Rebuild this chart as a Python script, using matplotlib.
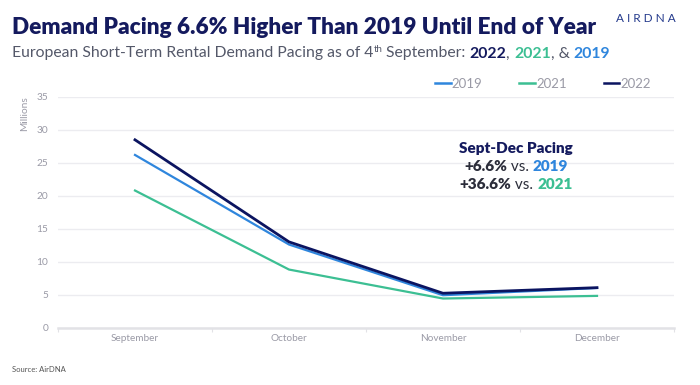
import matplotlib
matplotlib.use("Agg")
import matplotlib.pyplot as plt
from matplotlib.lines import Line2D

months = ["September", "October", "November", "December"]
series_names = ["2019", "2021", "2022"]
v2019 = [26.2, 12.6, 4.9, 6.0]
v2021 = [20.8, 8.8, 4.4, 4.8]
v2022 = [28.5, 13.0, 5.2, 6.05]
yticks = [0, 5, 10, 15, 20, 25, 30, 35]

C19 = "#2f86dd"
C21 = "#3cbf93"
C22 = "#0b1460"
NAVY = "#141a5e"
GREY = "#9a9aa6"
DARK = "#2b2d3a"

plt.rcParams["font.family"] = ["Lato", "DejaVu Sans"]

fig = plt.figure(figsize=(7, 3.85), dpi=100)
ax = fig.add_axes([58/700, 1-327.5/385, (674-58)/700, (327.5-97)/385])

x = list(range(len(months)))
ax.plot(x, v2019, color=C19, lw=1.6, zorder=3)
ax.plot(x, v2021, color=C21, lw=1.6, zorder=2)
ax.plot(x, v2022, color=C22, lw=2.0, zorder=4)

ax.set_xlim(-0.5, 3.5)
ax.set_ylim(0, 35)
ax.set_yticks(yticks)
ax.set_yticklabels([str(t) for t in yticks], color=GREY, fontsize=7.3)
ax.set_xticks(x)
ax.set_xticklabels(months, color=GREY, fontsize=7.2)
ax.set_xticks([-0.5, 0.5, 1.5, 2.5, 3.5], minor=True)
ax.tick_params(axis="x", which="major", length=0, pad=5)
ax.tick_params(axis="x", which="minor", length=3, color="#e2e2e6", width=0.8, direction="out")
ax.tick_params(axis="y", length=0, pad=7)
ax.grid(axis="y", color="#ececf0", lw=1.0)
ax.set_axisbelow(True)
for s in ["top", "right", "left"]:
    ax.spines[s].set_visible(False)
ax.spines["bottom"].set_color("#e2e2e6")
ax.spines["bottom"].set_linewidth(1.8)
ax.set_ylabel("Millions", color=GREY, fontsize=7.3)
ax.yaxis.set_label_coords(-0.047, 0.93)

handles = [Line2D([], [], color=c, lw=1.8) for c in (C19, C21, C22)]
leg = ax.legend(handles, series_names, loc="upper left", bbox_to_anchor=(372/616, 1.105),
                ncol=3, frameon=False, fontsize=9.5, handlelength=1.2, handletextpad=0.05,
                columnspacing=2.8, borderaxespad=0)
for t in leg.get_texts():
    t.set_color(GREY)

# Title
fig.text(12/700, 1-34/385, "Demand Pacing 6.6% Higher Than 2019 Until End of Year",
         fontsize=16.3, fontweight="heavy", color=NAVY, ha="left", va="baseline")

# Logo
fig.text(646/700, 1-22/385, "A I R D N A", fontsize=8.5, color="#243a8c",
         ha="center", va="baseline", fontweight="normal")

# Subtitle built from pieces
fig.canvas.draw()
renderer = fig.canvas.get_renderer()
pieces = [
    ("European Short-Term Rental Demand Pacing as of 4", "#545869", "normal", 11.3, 0),
    ("th", "#545869", "normal", 7, 5),
    (" September: ", "#545869", "normal", 11.3, 0),
    ("2022", NAVY, "bold", 11.3, 0),
    (", ", "#545869", "normal", 11.3, 0),
    ("2021", C21, "bold", 11.3, 0),
    (", & ", "#545869", "normal", 11.3, 0),
    ("2019", C19, "bold", 11.3, 0),
]
xpix = 12
base = 385 - 57.5
for txt, col, wt, fs, rise in pieces:
    t = fig.text(xpix/700, (base + rise)/385, txt, color=col, fontweight=wt,
                 fontsize=fs, ha="left", va="baseline")
    bb = t.get_window_extent(renderer)
    xpix = bb.x1

# annotation box
def line_pieces(parts, ycenter_px, fs=11):
    widths = []
    tmp = []
    for txt, col, wt in parts:
        t = fig.text(0, 0, txt, fontsize=fs, fontweight=wt, color=col)
        widths.append(t.get_window_extent(renderer).width)
        tmp.append(t)
    for t in tmp:
        t.remove()
    total = sum(widths)
    xs = 516 - total/2
    for (txt, col, wt), w in zip(parts, widths):
        fig.text(xs/700, 1-ycenter_px/385, txt, fontsize=fs, fontweight=wt, color=col,
                 ha="left", va="baseline")
        xs += w

line_pieces([("Sept-Dec Pacing", NAVY, "heavy")], 153)
line_pieces([("+6.6%", DARK, "heavy"), (" vs. ", DARK, "normal"), ("2019", C19, "heavy")], 171)
line_pieces([("+36.6%", DARK, "heavy"), (" vs. ", DARK, "normal"), ("2021", C21, "heavy")], 189)

fig.text(12/700, 1-372/385, "Source: AirDNA", fontsize=5.5, color="#555", ha="left", va="baseline")

fig.savefig("out.png", dpi=100)
